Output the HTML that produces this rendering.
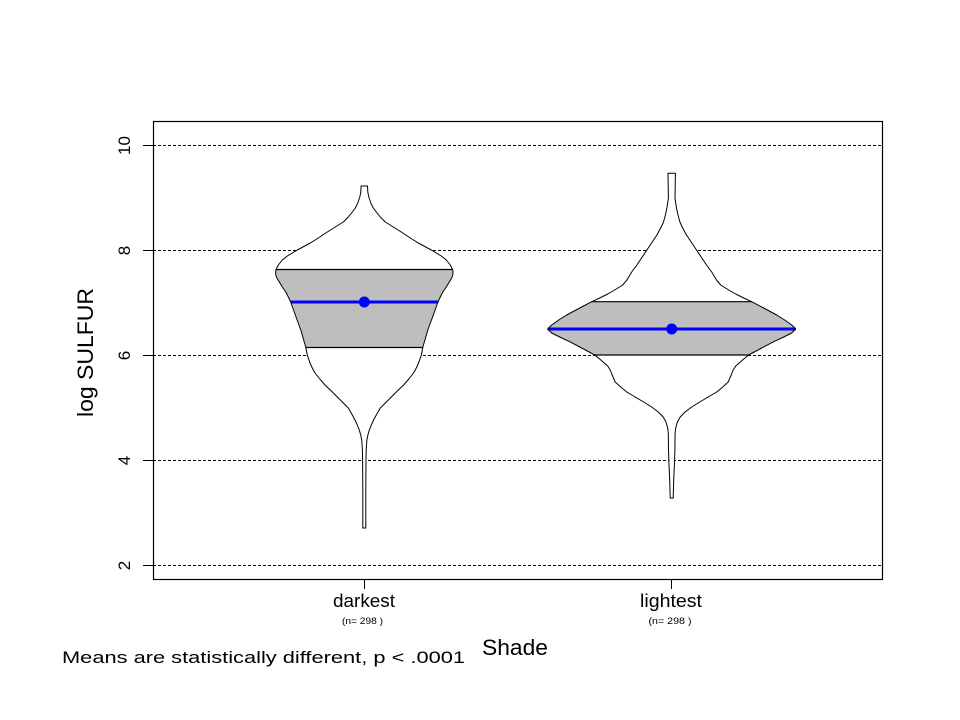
<!DOCTYPE html>
<html>
<head>
<meta charset="utf-8">
<style>
  html, body { margin: 0; padding: 0; background: #ffffff; }
  svg { display: block; }
  text { font-family: "Liberation Sans", Arial, sans-serif; fill: #000; }
</style>
</head>
<body>
<svg width="960" height="720" viewBox="0 0 960 720" xmlns="http://www.w3.org/2000/svg">
  <defs>
    <clipPath id="clipDark">
      <polygon id="pd" points="367.5,186 367.8,192 368.8,197 370.8,203 373.3,208 376.3,212 380.3,217 385.3,222 393.3,227 401.3,232 410.3,238 418.3,243 431.3,250 441.3,256 446.3,260 450.3,265 452.8,270 453.0,274 451.8,278 449.3,282 446.3,287 442.8,292 440.3,297 437.9,302 433.3,315 427.8,330 422.9,347 421.3,355 418.6,363 416.3,368 413.6,373 408.8,379 403.6,385 397.3,391 390.3,398 385.3,403 380.3,408 376.8,414 373.6,420 371.3,425 369.3,430 367.9,435 366.9,440 366.3,448 366.0,458 365.8,490 365.8,528 362.8,528 362.8,490 362.6,458 362.3,448 361.7,440 360.7,435 359.3,430 357.3,425 355.0,420 351.8,414 348.3,408 343.3,403 338.3,398 331.3,391 325.0,385 319.8,379 315.0,373 312.3,368 310.0,363 307.3,355 305.7,347 300.8,330 295.3,315 290.7,302 288.3,297 285.8,292 282.3,287 279.3,282 276.8,278 275.6,274 275.8,270 278.3,265 282.3,260 287.3,256 297.3,250 310.3,243 318.3,238 327.3,232 335.3,227 343.3,222 348.3,217 352.3,212 355.3,208 357.8,203 359.8,197 360.8,192 361.1,186"/>
    </clipPath>
    <clipPath id="clipLight">
      <polygon id="pl" points="675.4,173.3 675.2,185 675.0,198 675.7,203 676.5,208 678.0,215 679.9,222 682.7,228 686.5,235 691.2,242 696.5,250 701.2,257 706.5,265 711.7,272 716.5,280 720.7,285 728.7,290 735.7,294 743.7,298 751.7,301.7 763.7,308 776.7,315 784.7,320 791.7,325 795.7,329 791.7,333 783.7,337 773.7,341.7 761.7,348 748.7,355 743.7,359 739.2,363 735.7,366 733.2,370 731.2,375 728.2,382 722.7,387 716.7,392 708.2,397 699.7,402 691.7,407 685.1,412 680.2,417 677.4,422 675.7,428 675.1,433 674.9,450 674.4,465 673.7,480 673.2,498 670.2,498 669.7,480 669.0,465 668.5,450 668.3,433 667.7,428 666.0,422 663.2,417 658.3,412 651.7,407 643.7,402 635.2,397 626.7,392 620.7,387 615.2,382 612.2,375 610.2,370 607.7,366 604.2,363 599.7,359 594.7,355 581.7,348 569.7,341.7 559.7,337 551.7,333 547.7,329 551.7,325 558.7,320 566.7,315 579.7,308 591.7,301.7 599.7,298 607.7,294 614.7,290 622.7,285 626.9,280 631.7,272 636.9,265 642.2,257 646.9,250 652.2,242 656.9,235 660.7,228 663.5,222 665.4,215 666.9,208 667.7,203 668.4,198 668.2,185 668.0,173.3"/>
    </clipPath>
  </defs>

  <!-- grid lines -->
  <g stroke="#000" stroke-width="1" stroke-dasharray="3,2">
    <line x1="153" y1="145.5" x2="882" y2="145.5"/>
    <line x1="153" y1="250.5" x2="882" y2="250.5"/>
    <line x1="153" y1="355.5" x2="882" y2="355.5"/>
    <line x1="153" y1="460.5" x2="882" y2="460.5"/>
    <line x1="153" y1="565.5" x2="882" y2="565.5"/>
  </g>

  <!-- violins white fill -->
  <use href="#pd" fill="#fff"/>
  <use href="#pl" fill="#fff"/>

  <!-- gray IQR boxes -->
  <rect x="260" y="269.3" width="210" height="77.7" fill="#bebebe" clip-path="url(#clipDark)"/>
  <rect x="530" y="301.7" width="280" height="53.3" fill="#bebebe" clip-path="url(#clipLight)"/>

  <!-- box edges -->
  <g stroke="#000" stroke-width="1.2">
    <line x1="276" y1="269.5" x2="452.8" y2="269.5"/>
    <line x1="305.7" y1="347.5" x2="422.9" y2="347.5"/>
    <line x1="591.7" y1="301.7" x2="751.7" y2="301.7"/>
    <line x1="594.7" y1="355" x2="748.7" y2="355"/>
  </g>

  <!-- mean lines and dots -->
  <g stroke="#0000ff" stroke-width="3">
    <line x1="290.7" y1="302" x2="437.9" y2="302"/>
    <line x1="547.7" y1="329" x2="795.7" y2="329"/>
  </g>
  <circle cx="364.3" cy="302" r="5.5" fill="#0000ff"/>
  <circle cx="671.7" cy="329" r="5.5" fill="#0000ff"/>

  <!-- violin outlines -->
  <use href="#pd" fill="none" stroke="#000" stroke-width="1" stroke-linejoin="round"/>
  <use href="#pl" fill="none" stroke="#000" stroke-width="1" stroke-linejoin="round"/>

  <!-- plot frame -->
  <rect x="153.5" y="121.5" width="729" height="458" fill="none" stroke="#000" stroke-width="1.2"/>

  <!-- y ticks -->
  <g stroke="#000" stroke-width="1">
    <line x1="143" y1="145.5" x2="153" y2="145.5"/>
    <line x1="143" y1="250.5" x2="153" y2="250.5"/>
    <line x1="143" y1="355.5" x2="153" y2="355.5"/>
    <line x1="143" y1="460.5" x2="153" y2="460.5"/>
    <line x1="143" y1="565.5" x2="153" y2="565.5"/>
    <line x1="364.5" y1="580" x2="364.5" y2="589"/>
    <line x1="671.5" y1="580" x2="671.5" y2="589"/>
  </g>

  <!-- y tick labels (rotated) -->
  <g font-size="17" text-anchor="middle">
    <text transform="translate(130,145.5) rotate(-90)">10</text>
    <text transform="translate(130,250.5) rotate(-90)">8</text>
    <text transform="translate(130,355.5) rotate(-90)">6</text>
    <text transform="translate(130,460.5) rotate(-90)">4</text>
    <text transform="translate(130,565.5) rotate(-90)">2</text>
  </g>

  <!-- y axis label -->
  <text transform="translate(93,352.5) rotate(-90)" font-size="22" text-anchor="middle" textLength="129" lengthAdjust="spacingAndGlyphs">log SULFUR</text>

  <!-- x tick labels -->
  <text x="364" y="607" font-size="18" text-anchor="middle" textLength="62" lengthAdjust="spacingAndGlyphs">darkest</text>
  <text x="671" y="607" font-size="18" text-anchor="middle" textLength="62" lengthAdjust="spacingAndGlyphs">lightest</text>
  <text x="362.5" y="624" font-size="9.5" text-anchor="middle" textLength="41" lengthAdjust="spacingAndGlyphs">(n= 298 )</text>
  <text x="670" y="624" font-size="9.5" text-anchor="middle" textLength="43" lengthAdjust="spacingAndGlyphs">(n= 298 )</text>

  <!-- x axis label -->
  <text x="515" y="655" font-size="22" text-anchor="middle" textLength="66" lengthAdjust="spacingAndGlyphs">Shade</text>

  <!-- footnote -->
  <text x="62" y="663" font-size="17" textLength="403" lengthAdjust="spacingAndGlyphs">Means are statistically different,  p &lt; .0001</text>
</svg>
</body>
</html>
